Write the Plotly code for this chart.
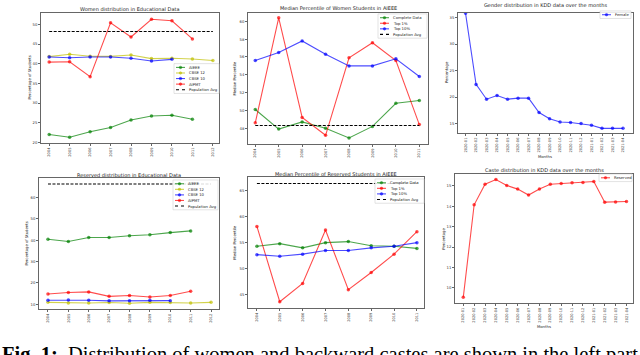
import plotly.graph_objects as go

W, H = 640, 355

# ---------------- data ----------------
years = [2004, 2005, 2006, 2007, 2008, 2009, 2010, 2011, 2012]
years_aieee = [2004, 2005, 2006, 2007, 2008, 2009, 2010, 2011]
months = ["2020-01", "2020-02", "2020-03", "2020-04", "2020-05", "2020-06",
          "2020-07", "2020-08", "2020-09", "2020-10", "2020-11", "2020-12",
          "2021-01", "2021-02", "2021-03", "2021-04"]

women_aieee = [22.0, 21.3, 22.7, 23.8, 25.7, 26.7, 26.9, 25.9]
women_cbse12 = [41.8, 42.4, 41.9, 41.85, 42.2, 41.3, 41.4, 41.2, 40.8]
women_cbse10 = [41.7, 41.5, 41.7, 41.7, 41.4, 40.7, 41.1]
women_aipmt = [40.4, 40.5, 36.7, 50.4, 46.8, 51.3, 50.9, 46.3]
women_pop_avg = 48.2

wm_complete = [50.1, 47.9, 48.7, 48.0, 46.9, 48.2, 50.8, 51.1]
wm_top1 = [48.6, 60.4, 49.2, 47.2, 55.9, 57.6, 55.6, 48.4]
wm_top10 = [55.6, 56.5, 57.8, 56.3, 55.0, 55.0, 55.8, 53.8]
wm_pop_avg = 48.3

female_pct = [35.8, 22.4, 19.6, 20.3, 19.6, 19.8, 19.8, 17.1, 15.9, 15.3,
              15.2, 15.0, 14.7, 14.1, 14.1, 14.1]

res_aieee = [40.5, 39.4, 41.3, 41.3, 42.1, 42.6, 43.6, 44.4]
res_cbse12 = [10.9, 10.6, 10.6, 10.8, 10.5, 10.9, 10.8, 10.6, 10.9]
res_cbse10 = [11.9, 12.0, 11.9, 11.6, 11.7, 11.9, 11.7]
res_aipmt = [14.8, 15.5, 15.8, 13.7, 14.1, 13.4, 14.1, 16.1]
res_pop_avg = 66.4

rm_complete = [54.3, 54.8, 54.0, 55.0, 55.2, 54.4, 54.3, 53.9]
rm_top1 = [58.1, 43.7, 47.2, 57.4, 46.0, 49.3, 52.8, 57.1]
rm_top10 = [52.7, 52.4, 52.8, 53.5, 53.5, 54.0, 54.3, 55.0]
rm_pop_avg = 66.3

reserved_pct = [9.53, 14.07, 15.08, 15.31, 15.02, 14.84, 14.55, 14.84, 15.08,
                15.11, 15.15, 15.16, 15.21, 14.2, 14.21, 14.23]

# ---------------- styles ----------------
GREEN = "rgba(0,128,0,0.7)"
YELLOW = "rgba(191,191,0,0.7)"
BLUE = "rgba(0,0,255,0.7)"
RED = "rgba(255,0,0,0.7)"
BLACK = "black"
FONT = "DejaVu Sans"
FRAME = "#666"


def px_x(p):
    return p / W


def px_y(p):
    return 1 - p / H


fig = go.Figure()


def line(x, y, color, name, ax, dash=None, marker=True):
    fig.add_trace(go.Scatter(
        x=x, y=y, name=name, mode="lines+markers" if marker else "lines",
        line=dict(color=color, width=1.1, dash=dash or "solid"),
        marker=dict(color=color, size=3.5, symbol="circle"),
        xaxis="x" + ax, yaxis="y" + ax, showlegend=False))


# panel 1
line(years_aieee, women_aieee, GREEN, "AIEEE", "")
line(years, women_cbse12, YELLOW, "CBSE 12", "")
line(years[:7], women_cbse10, BLUE, "CBSE 10", "")
line(years_aieee, women_aipmt, RED, "AIPMT", "")
line(years, [women_pop_avg] * len(years), BLACK, "Population Avg", "", dash="3px,1.5px", marker=False)

# panel 2
line(years_aieee, wm_complete, GREEN, "Complete Data", "2")
line(years_aieee, wm_top1, RED, "Top 1%", "2")
line(years_aieee, wm_top10, BLUE, "Top 10%", "2")
line(years_aieee, [wm_pop_avg] * len(years_aieee), BLACK, "Population Avg", "2", dash="3px,1.5px", marker=False)

# panel 3
line(months, female_pct, BLUE, "Female", "3")

# panel 4
line(years_aieee, res_aieee, GREEN, "AIEEE", "4")
line(years, res_cbse12, YELLOW, "CBSE 12", "4")
line(years[:7], res_cbse10, BLUE, "CBSE 10", "4")
line(years_aieee, res_aipmt, RED, "AIPMT", "4")
line(years, [res_pop_avg] * len(years), BLACK, "Population Avg", "4", dash="3px,1.5px", marker=False)

# panel 5
line(years_aieee, rm_complete, GREEN, "Complete Data", "5")
line(years_aieee, rm_top1, RED, "Top 1%", "5")
line(years_aieee, rm_top10, BLUE, "Top 10%", "5")
line(years_aieee, [rm_pop_avg] * len(years_aieee), BLACK, "Population Avg", "5", dash="3px,1.5px", marker=False)

# panel 6
line(months, reserved_pct, RED, "Reserved", "6")

# ---------------- axes ----------------
panels = {
    "": dict(box=(41, 219, 13, 144), xr=[2003.6, 2012.3], yr=[19.8, 52.9],
             yt=[20, 25, 30, 35, 40, 45, 50], xt=years, cat=False),
    "2": dict(box=(248, 428, 13, 145), xr=[2003.69, 2011.37], yr=[46.2, 60.95],
              yt=[48, 50, 52, 54, 56, 58, 60], xt=years_aieee, cat=False),
    "3": dict(box=(458, 633, 13, 134), xr=[-0.72, 15.95], yr=[13.18, 35.88],
              yt=[15, 20, 25, 30, 35], xt=months, cat=True),
    "4": dict(box=(39, 219, 179, 311), xr=[2003.56, 2012.39], yr=[7.66, 69.2],
              yt=[10, 20, 30, 40, 50, 60], xt=years, cat=False),
    "5": dict(box=(248, 424, 178, 310), xr=[2003.61, 2011.31], yr=[42.46, 67.54],
              yt=[45, 50, 55, 60, 65], xt=years_aieee, cat=False),
    "6": dict(box=(455, 633, 175, 305), xr=[-0.76, 15.6], yr=[9.24, 15.58],
              yt=[10, 11, 12, 13, 14, 15], xt=months, cat=True),
}

layout = {}
for k, p in panels.items():
    x0, x1, yt_, yb = p["box"]
    xa = dict(domain=[px_x(x0), px_x(x1)], anchor="y" + k, range=p["xr"],
              showgrid=False, zeroline=False, showline=True, mirror=True,
              linecolor=FRAME, linewidth=0.8, ticks="outside", ticklen=2,
              tickcolor=FRAME, tickwidth=0.6, tickangle=-90,
              tickfont=dict(size=3.6, family=FONT, color="#333"))
    if p["cat"]:
        xa["type"] = "category"
    else:
        xa["tickvals"] = p["xt"]
        xa["ticktext"] = [str(v) for v in p["xt"]]
    ya = dict(domain=[px_y(yb), px_y(yt_)], anchor="x" + k, range=p["yr"],
              showgrid=False, zeroline=False, showline=True, mirror=True,
              linecolor=FRAME, linewidth=0.8, ticks="outside", ticklen=2,
              tickcolor=FRAME, tickwidth=0.6, tickvals=p["yt"],
              tickfont=dict(size=3.8, family=FONT, color="#333"))
    layout["xaxis" + k] = xa
    layout["yaxis" + k] = ya

fig.update_layout(**layout)

annotations = []
shapes = []


def text(x, y, s, size=5, angle=0, xanchor="center", yanchor="middle", color="#222", family=FONT):
    annotations.append(dict(x=px_x(x), y=px_y(y), xref="paper", yref="paper", text=s,
                            showarrow=False, textangle=angle, xanchor=xanchor,
                            yanchor=yanchor, font=dict(size=size, family=family, color=color)))


# titles
text(130, 9, "Women distribution in Educational Data")
text(338, 8, "Median Percentile of Women Students in AIEEE")
text(545, 5, "Gender distribution in KDD data over the months")
text(129, 175.5, "Reserved distribution in Educational Data")
text(336, 175, "Median Percentile of Reserved Students in AIEEE")
text(544, 171, "Caste distribution in KDD data over the months")

# axis labels
text(30, 78, "Percentage of Students", size=3.8, angle=-90)
text(235, 79, "Median Percentile", size=3.8, angle=-90)
text(446.5, 73, "Percentage", size=3.8, angle=-90)
text(27, 245, "Percentage of Students", size=3.8, angle=-90)
text(235, 244, "Median Percentile", size=3.8, angle=-90)
text(444, 240, "Percentage", size=3.8, angle=-90)
text(545, 157, "Months", size=3.8)
text(544, 328, "Months", size=3.8)


def legend(xr, yt, width, entries, row=5.6):
    x0 = xr - width
    h = row * len(entries) + 2
    shapes.append(dict(type="rect", xref="paper", yref="paper",
                       x0=px_x(x0), x1=px_x(xr), y0=px_y(yt + h), y1=px_y(yt),
                       line=dict(color="#d0d0d0", width=0.6), fillcolor="rgba(255,255,255,0.85)"))
    for i, (name, color, dash, mk) in enumerate(entries):
        yc = yt + 1 + row * (i + 0.5)
        shapes.append(dict(type="line", xref="paper", yref="paper",
                           x0=px_x(x0 + 2), x1=px_x(x0 + 11), y0=px_y(yc), y1=px_y(yc),
                           line=dict(color=color, width=1.1, dash=dash)))
        if mk:
            shapes.append(dict(type="circle", xref="paper", yref="paper",
                               x0=px_x(x0 + 5.2), x1=px_x(x0 + 7.8), y0=px_y(yc + 1.3), y1=px_y(yc - 1.3),
                               line=dict(color=color, width=0.5), fillcolor=color))
        text(x0 + 13, yc, name, size=3.8, xanchor="left")


edu_entries = [("AIEEE", GREEN, "solid", True), ("CBSE 12", YELLOW, "solid", True),
               ("CBSE 10", BLUE, "solid", True), ("AIPMT", RED, "solid", True),
               ("Population Avg", BLACK, "dot", False)]
med_entries = [("Complete Data", GREEN, "solid", True), ("Top 1%", RED, "solid", True),
               ("Top 10%", BLUE, "solid", True), ("Population Avg", BLACK, "dot", False)]

legend(219, 64, 45, edu_entries)
legend(427, 14, 49, med_entries)
legend(631, 11, 31, [("Female", BLUE, "solid", True)])
legend(218, 181, 45, edu_entries)
legend(424, 180, 49, med_entries)
legend(632, 175, 33, [("Reserved", RED, "solid", True)])

# caption (cut off at the bottom of the picture)
annotations.append(dict(x=0.0, y=px_y(343), xref="paper", yref="paper",
                        text="<b>Fig. 1:</b>  Distribution of women and backward castes are shown in the left part of the figure",
                        showarrow=False, xanchor="left", yanchor="top",
                        font=dict(size=20.5, family="Liberation Serif", color="black")))

fig.update_layout(width=W, height=H, margin=dict(l=0, r=0, t=0, b=0),
                  paper_bgcolor="white", plot_bgcolor="white",
                  annotations=annotations, shapes=shapes, showlegend=False)

fig.write_html("out.html", config={"displayModeBar": False},
               post_script="document.body.style.margin='0';document.body.style.overflow='hidden';")
